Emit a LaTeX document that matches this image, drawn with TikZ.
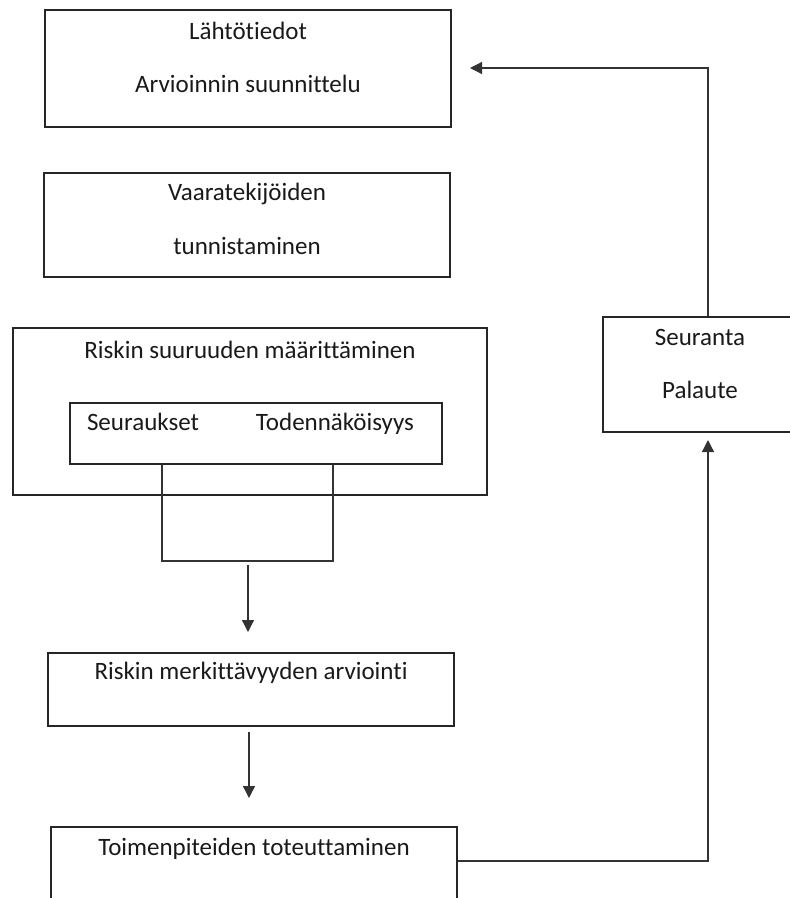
\documentclass[tikz,border=0pt]{standalone}
\usepackage{fontspec}
\setmainfont[Ligatures=NoCommon]{Carlito}
\usetikzlibrary{arrows.meta}
\tikzset{
  laatikko/.style={draw=black!85, line width=1.3pt, inner sep=0pt},
  teksti/.style={font=\fontsize{25}{30}\selectfont, inner sep=0pt, anchor=base, text=black!90},
  viiva/.style={draw=black!80, line width=1.3pt},
  nuoli/.style={viiva, -{Triangle[length=12pt,width=12pt]}}
}
\begin{document}
\begin{tikzpicture}[x=1pt,y=-1pt]
\useasboundingbox (0,0) rectangle (790,898);
\clip (0,0) rectangle (790,898);
\node[laatikko, minimum width=406pt, minimum height=117pt] (lahto) at (248,68.5) {};
\node[teksti] (lahto1) at (248,39) {Lähtötiedot};
\node[teksti] (lahto2) at (248,92) {Arvioinnin suunnittelu};
\node[laatikko, minimum width=406pt, minimum height=104pt] (vaara) at (247,225) {};
\node[teksti] (vaara1) at (247,200) {Vaaratekijöiden};
\node[teksti] (vaara2) at (247,254) {tunnistaminen};
\node[laatikko, minimum width=474pt, minimum height=167pt] (suuruus) at (250,411.5) {};
\node[teksti] (suuruus1) at (250,358) {Riskin suuruuden määrittäminen};
\node[laatikko, minimum width=372pt, minimum height=61pt] (sisa) at (256,433.5) {};
\node[teksti] (seur) at (143,430) {Seuraukset};
\node[teksti] (tod) at (335,430) {Todennäköisyys};
\node[laatikko, minimum width=406pt, minimum height=73pt] (merkitys) at (251,689.5) {};
\node[teksti] (merkitys1) at (251,679) {Riskin merkittävyyden arviointi};
\node[laatikko, minimum width=406pt, minimum height=100pt] (toteutus) at (254,877) {};
\node[teksti] (toteutus1) at (254,855) {Toimenpiteiden toteuttaminen};
\node[laatikko, minimum width=195pt, minimum height=115pt] (seuranta) at (700.5,374.5) {};
\node[teksti] (seuranta1) at (700,345) {Seuranta};
\node[teksti] (seuranta2) at (700,398) {Palaute};
\coordinate (v1) at (162,561);
\coordinate (v2) at (333,561);
\draw[viiva] (sisa.south -| v1) -- (v1) -- (v2) -- (sisa.south -| v2);
\coordinate (n1) at (248,565);
\coordinate (n2) at (248,632);
\draw[nuoli] (n1) -- (n2);
\coordinate (n3) at (249,732);
\coordinate (n4) at (249,798);
\draw[nuoli] (n3) -- (n4);
\coordinate (k1) at (708,861);
\coordinate (k2) at (708,440);
\draw[nuoli] (toteutus.east |- k1) -- (k1) -- (k2);
\coordinate (k3) at (708,68);
\coordinate (k4) at (470,68);
\draw[nuoli] (seuranta.north -| k3) -- (k3) -- (k4);
\end{tikzpicture}
\end{document}
